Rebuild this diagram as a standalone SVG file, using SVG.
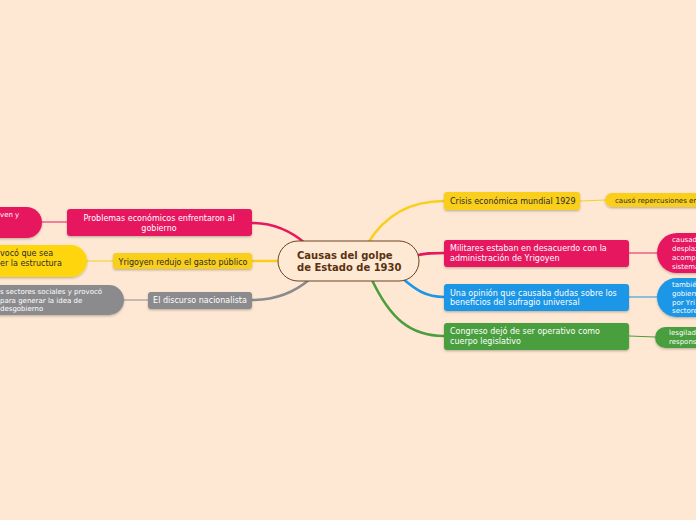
<svg xmlns="http://www.w3.org/2000/svg" width="696" height="520" viewBox="0 0 696 520">
<defs>
<filter id="sh" x="-10%" y="-20%" width="120%" height="150%">
<feDropShadow dx="0" dy="1.2" stdDeviation="0.8" flood-color="#000" flood-opacity="0.25"/>
</filter>
<style>
text{font-family:"DejaVu Sans",Verdana,sans-serif;font-size:8px}
.w{fill:#ffffff}
.d{fill:#2b2b2b}
.pk{fill:#E6195F}
.yl{fill:#F9CF1E}
.ye{fill:#FFD60A}
.gr{fill:#8B8B8E}
.bl{fill:#1C96E6}
.gn{fill:#4A9E3E}
.c{fill:none;stroke-linecap:round}
.sm{font-size:7px}
</style>
</defs>
<rect width="696" height="520" fill="#FEE8D3"/>
<g id="connectors">
<path class="c" d="M368,243 C385,215 410,201 444,201" stroke="#F9CF1E" stroke-width="2.6"/>
<path class="c" d="M414,256 C425,253 432,253 444,253" stroke="#E6195F" stroke-width="2.6"/>
<path class="c" d="M402,278 C416,290 426,297 444,297" stroke="#1C96E6" stroke-width="2.6"/>
<path class="c" d="M372,280 C390,318 410,336 444,336" stroke="#4A9E3E" stroke-width="2.6"/>
<path class="c" d="M306,244 C290,230 272,223 252,223" stroke="#E6195F" stroke-width="2.6"/>
<path class="c" d="M280,261 L252,261" stroke="#F9CF1E" stroke-width="2.6"/>
<path class="c" d="M310,279 C295,292 275,300 252,300" stroke="#8B8B8E" stroke-width="2.6"/>
<path class="c" d="M580,201 L606,200" stroke="#F9CF1E" stroke-width="1"/>
<path class="c" d="M629,253 L657,253" stroke="#E6195F" stroke-width="1"/>
<path class="c" d="M629,297 L657,297" stroke="#1C96E6" stroke-width="1"/>
<path class="c" d="M629,336 L655,337" stroke="#4A9E3E" stroke-width="1"/>
<path class="c" d="M67,222 L42,222" stroke="#E6195F" stroke-width="1"/>
<path class="c" d="M113,261 L87,261" stroke="#F9CF1E" stroke-width="1"/>
<path class="c" d="M148,300 L124,300" stroke="#8B8B8E" stroke-width="1"/>
</g>
<g id="center">
<rect x="278" y="241" width="141" height="40" rx="20" fill="#FEE9D5" stroke="#6B4322" stroke-width="1"/>
<text x="297" y="259" style="font-weight:bold;font-size:10px;fill:#5A3210">Causas del golpe</text>
<text x="297" y="271" style="font-weight:bold;font-size:10px;fill:#5A3210">de Estado de 1930</text>
</g>
<g id="n-problemas">
<rect class="pk" x="67" y="209" width="185" height="27" rx="3" filter="url(#sh)"/>
<text class="w" x="159" y="221" text-anchor="middle">Problemas económicos enfrentaron al</text>
<text class="w" x="159" y="231" text-anchor="middle">gobierno</text>
</g>
<g id="n-problemas-sub">
<rect class="pk" x="-60" y="207" width="102" height="31" rx="15.5" filter="url(#sh)"/>
<text class="w" x="0" y="217" style="font-size:7px">ven y</text>
</g>
<g id="n-gasto">
<rect class="yl" x="113" y="253" width="139" height="16" rx="3" filter="url(#sh)"/>
<text class="d" x="183" y="264.5" text-anchor="middle">Yrigoyen redujo el gasto público</text>
</g>
<g id="n-gasto-sub">
<rect class="ye" x="-60" y="245" width="147" height="32" rx="16" filter="url(#sh)"/>
<text class="d" x="0" y="256">vocó que sea</text>
<text class="d" x="0" y="266">er la estructura</text>
</g>
<g id="n-discurso">
<rect class="gr" x="148" y="292" width="104" height="17" rx="3" filter="url(#sh)"/>
<text class="w" x="200" y="303" text-anchor="middle">El discurso nacionalista</text>
</g>
<g id="n-discurso-sub">
<rect class="gr" x="-60" y="285" width="184" height="30" rx="15" filter="url(#sh)"/>
<text class="w sm" x="0" y="294">s sectores sociales y provocó</text>
<text class="w sm" x="0" y="302.5">para generar la idea de</text>
<text class="w sm" x="0" y="311"> desgobierno</text>
</g>
<g id="n-crisis">
<rect class="yl" x="444" y="192" width="136" height="18" rx="3" filter="url(#sh)"/>
<text class="d" x="450" y="204">Crisis económica mundial 1929</text>
</g>
<g id="n-crisis-sub">
<rect class="yl" x="605" y="193" width="140" height="14" rx="7" filter="url(#sh)"/>
<text class="d sm" x="615" y="202.5">causó repercusiones en</text>
</g>
<g id="n-militares">
<rect class="pk" x="444" y="240" width="185" height="27" rx="3" filter="url(#sh)"/>
<text class="w" x="450" y="251">Militares estaban en desacuerdo con la</text>
<text class="w" x="450" y="261">administración de Yrigoyen</text>
</g>
<g id="n-militares-sub">
<rect class="pk" x="657" y="233" width="100" height="40" rx="20" filter="url(#sh)"/>
<text class="w sm" x="672" y="242">causad</text>
<text class="w sm" x="672" y="251">desplaz</text>
<text class="w sm" x="672" y="259.5">acomp</text>
<text class="w sm" x="672" y="268.5">sistema</text>
</g>
<g id="n-opinion">
<rect class="bl" x="444" y="284" width="185" height="27" rx="3" filter="url(#sh)"/>
<text class="w" x="450" y="295.5">Una opinión que causaba dudas sobre los</text>
<text class="w" x="450" y="305">beneficios del sufragio universal</text>
</g>
<g id="n-opinion-sub">
<rect class="bl" x="657" y="278" width="100" height="39" rx="19.5" filter="url(#sh)"/>
<text class="w sm" x="672" y="287">tambié</text>
<text class="w sm" x="672" y="296">gobiern</text>
<text class="w sm" x="672" y="304.5">por Yri</text>
<text class="w sm" x="672" y="313">sectore</text>
</g>
<g id="n-congreso">
<rect class="gn" x="444" y="323" width="185" height="27" rx="3" filter="url(#sh)"/>
<text class="w" x="450" y="334">Congreso dejó de ser operativo como</text>
<text class="w" x="450" y="343.5">cuerpo legislativo</text>
</g>
<g id="n-congreso-sub">
<rect class="gn" x="655" y="327" width="100" height="21" rx="10.5" filter="url(#sh)"/>
<text class="w sm" x="669" y="335">lesgilad</text>
<text class="w sm" x="669" y="344">respons</text>
</g>
</svg>
